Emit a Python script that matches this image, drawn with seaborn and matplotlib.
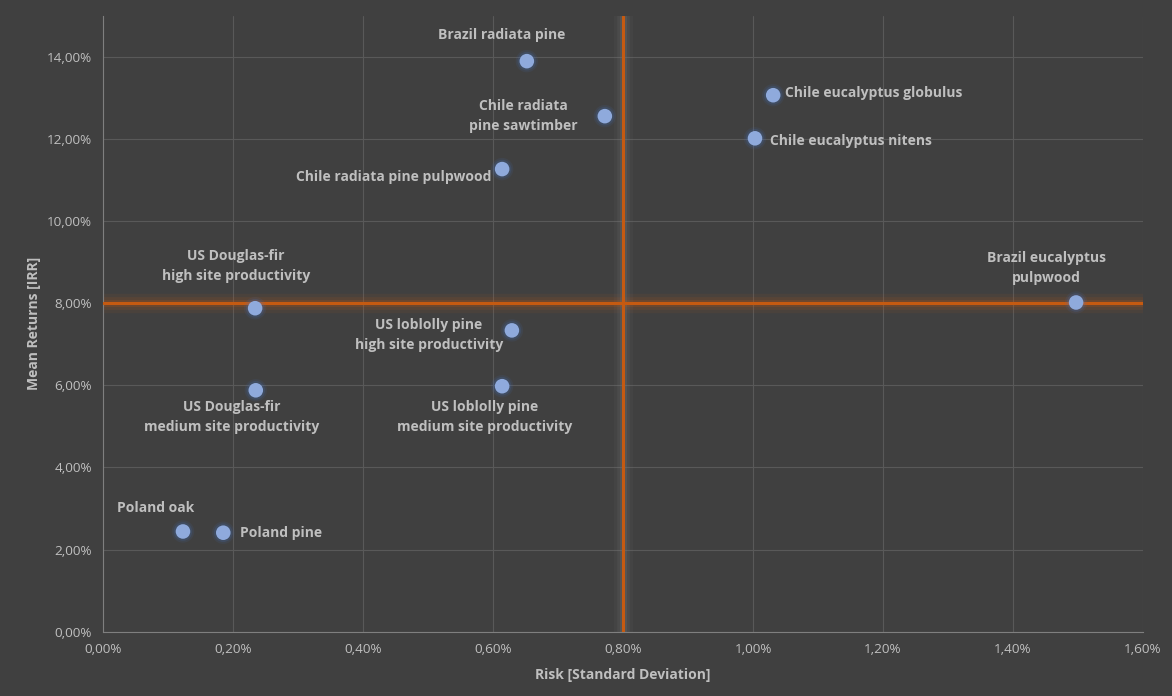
import numpy as np
import pandas as pd
import matplotlib
matplotlib.use('Agg')
import matplotlib.pyplot as plt
import seaborn as sns
from matplotlib.ticker import FuncFormatter, MultipleLocator

# --- data (risk = std dev in %, returns = IRR in %) ---
names = [
    'Brazil radiata pine', 'Chile radiata\npine sawtimber', 'Chile eucalyptus globulus',
    'Chile eucalyptus nitens', 'Chile radiata pine pulpwood', 'Brazil eucalyptus\npulpwood',
    'US Douglas-fir\nhigh site productivity', 'US loblolly pine\nhigh site productivity',
    'US Douglas-fir\nmedium site productivity', 'US loblolly pine\nmedium site productivity',
    'Poland oak', 'Poland pine',
]
risk = [0.652, 0.772, 1.031, 1.003, 0.614, 1.497, 0.234, 0.629, 0.235, 0.614, 0.123, 0.185]
returns = [13.90, 12.56, 13.07, 12.02, 11.27, 8.02, 7.88, 7.34, 5.88, 5.98, 2.44, 2.41]
risk_threshold = 0.8
return_threshold = 8.0

df = pd.DataFrame({'name': names, 'risk': risk, 'returns': returns})

# label placement: (dx, dy) in pixels, ha
label_pos = {
    'Brazil radiata pine': (-25, 26, 'center'),
    'Chile radiata\npine sawtimber': (-27, 0, 'right'),
    'Chile eucalyptus globulus': (12, 2, 'left'),
    'Chile eucalyptus nitens': (15, -3, 'left'),
    'Chile radiata pine pulpwood': (-11, -8, 'right'),
    'Brazil eucalyptus\npulpwood': (-30, 34, 'center'),
    'US Douglas-fir\nhigh site productivity': (-19, 42, 'center'),
    'US loblolly pine\nhigh site productivity': (-83, -5, 'center'),
    'US Douglas-fir\nmedium site productivity': (-24, -27, 'center'),
    'US loblolly pine\nmedium site productivity': (-18, -31, 'center'),
    'Poland oak': (-27, 23, 'center'),
    'Poland pine': (17, 0, 'left'),
}

BG = '#404040'
TXT = '#bfbfbf'
ORANGE = '#c55a11'
BLUE = '#8faadc'

sns.set_style('dark')
plt.rcParams['font.family'] = ['Open Sans', 'DejaVu Sans']

fig = plt.figure(figsize=(11.72, 6.96), dpi=100, facecolor=BG)
ax = fig.add_axes([0.0879, 0.0925, 0.8874, 0.8845], facecolor=BG)

ax.set_xlim(0, 1.6)
ax.set_ylim(0, 15)
ax.xaxis.set_major_locator(MultipleLocator(0.2))
ax.yaxis.set_major_locator(MultipleLocator(2))
pct = FuncFormatter(lambda v, p: f'{v:.2f}%'.replace('.', ','))
ax.xaxis.set_major_formatter(pct)
ax.yaxis.set_major_formatter(pct)
ax.grid(True, color='#595959', linewidth=0.8)
ax.set_axisbelow(True)
for side in ['top', 'right']:
    ax.spines[side].set_visible(False)
for side in ['left', 'bottom']:
    ax.spines[side].set_color('#7f7f7f')
    ax.spines[side].set_linewidth(0.8)
ax.tick_params(colors=TXT, labelsize=9.7, length=0, pad=8)

# threshold lines with soft glow
for lw, a in [(14, 0.08), (9, 0.12), (5, 0.18)]:
    ax.axhline(return_threshold, color=ORANGE, lw=lw, alpha=a, zorder=2)
    ax.axvline(risk_threshold, color='#7f7f7f', lw=lw, alpha=a, zorder=2)
ax.axhline(return_threshold, color=ORANGE, lw=2.2, zorder=3)
ax.axvline(risk_threshold, color=ORANGE, lw=2.2, zorder=3)

# points with glow
for s, a in [(260, 0.10), (180, 0.18)]:
    sns.scatterplot(data=df, x='risk', y='returns', s=s, color='#4472c4', alpha=a,
                    edgecolor='none', ax=ax, legend=False, zorder=4)
sns.scatterplot(data=df, x='risk', y='returns', s=110, color=BLUE,
                edgecolor='none', ax=ax, legend=False, zorder=5)

for _, r in df.iterrows():
    dx, dy, ha = label_pos[r['name']]
    ax.annotate(r['name'], (r['risk'], r['returns']), xytext=(dx, dy),
                textcoords='offset pixels', ha=ha, va='center', multialignment='center',
                color=TXT, fontsize=10, fontweight='bold', linespacing=1.55, zorder=6)

ax.set_xlabel('Risk [Standard Deviation]', color=TXT, fontsize=10, fontweight='bold', labelpad=9)
ax.set_ylabel('Mean Returns [IRR]', color=TXT, fontsize=10, fontweight='bold', labelpad=4)

fig.savefig('out.png', dpi=100, facecolor=BG)
